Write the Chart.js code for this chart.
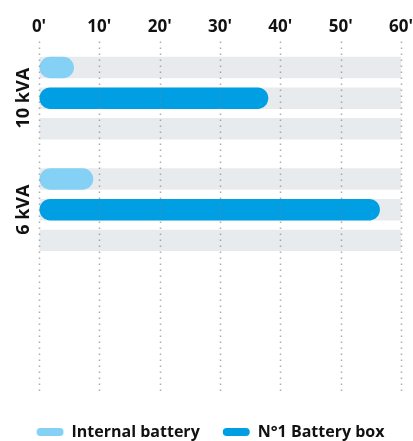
<!DOCTYPE html>
<html>
<head>
<meta charset="utf-8">
<script src="https://cdn.jsdelivr.net/npm/chart.js@4"></script>
<style>
html, body { margin: 0; padding: 0; background: #fff; }
#wrap { width: 413px; height: 441px; }
</style>
</head>
<body>
<div id="wrap"><canvas id="chart"></canvas></div>
<script>
// values (minutes of autonomy)
const categories = ['10 kVA', '6 kVA', ''];
const internalBattery = [5.8, 9, null];
const batteryBox = [38, 56.5, null];
const trackMax = [60, 60, null];
const xTicks = [0, 10, 20, 30, 40, 50, 60];

const LIGHT = '#84D1F5';
const BLUE = '#009FE3';
const TRACK = '#E8EBEE';
const FONT = "'Open Sans', sans-serif";

// dotted vertical grid, drawn over the bars
const dottedGrid = {
    id: 'dottedGrid',
    afterDatasetsDraw(chart) {
        const { ctx, chartArea, scales } = chart;
        ctx.save();
        ctx.strokeStyle = 'rgba(130,130,130,0.65)';
        ctx.lineWidth = 1.5;
        ctx.setLineDash([1.5, 4.5]);
        xTicks.forEach(v => {
            let px = Math.round(scales.x.getPixelForValue(v)) + 0.5;
            ctx.beginPath();
            ctx.moveTo(px, chartArea.top - 1);
            ctx.lineTo(px, chartArea.bottom + 15);
            ctx.stroke();
        });
        ctx.restore();
    }
};

// rotated category names on the left
const yLabels = {
    id: 'yLabels',
    afterDraw(chart) {
        const { ctx, scales } = chart;
        ctx.save();
        ctx.font = `700 18px ${FONT}`;
        ctx.fillStyle = '#111';
        ctx.textAlign = 'center';
        ctx.textBaseline = 'middle';
        categories.forEach((c, i) => {
            if (!c) return;
            ctx.save();
            ctx.translate(24, scales.y.getPixelForValue(i));
            ctx.rotate(-Math.PI / 2);
            ctx.fillText(c, 0, 0);
            ctx.restore();
        });
        ctx.restore();
    }
};

const bar = (label, data, color, stack, round) => ({
    label: label,
    data: data,
    backgroundColor: color,
    stack: stack,
    borderWidth: 0,
    borderRadius: round ? 11 : 0,
    borderSkipped: false,
    categoryPercentage: 0.825,
    barPercentage: 0.7
});

new Chart(document.getElementById('chart'), {
    type: 'bar',
    data: {
        labels: categories,
        datasets: [
            bar('Internal battery', internalBattery, LIGHT, 'a', true),
            bar('N°1 Battery box', batteryBox, BLUE, 'b', true),
            bar('trackA', trackMax, TRACK, 'a', false),
            bar('trackB', trackMax, TRACK, 'b', false),
            bar('trackC', trackMax, TRACK, 'c', false)
        ]
    },
    options: {
        indexAxis: 'y',
        responsive: true,
        maintainAspectRatio: false,
        animation: false,
        layout: { padding: { left: 10, right: 2, top: 17, bottom: -9 } },
        scales: {
            x: {
                position: 'top',
                min: 0,
                max: 60,
                stacked: false,
                afterBuildTicks: s => { s.ticks = xTicks.map(v => ({ value: v })); },
                grid: { display: true, color: 'transparent', drawOnChartArea: false, drawTicks: true, tickLength: 5 },
                border: { display: false },
                ticks: {
                    padding: 0,
                    color: '#111',
                    font: { family: FONT, size: 17, weight: '700' },
                    callback: v => v + "'"
                }
            },
            gap: {
                type: 'linear',
                position: 'bottom',
                display: true,
                grid: { display: false, drawTicks: false },
                border: { display: false },
                ticks: { display: false },
                afterFit: s => { s.height = 24; }
            },
            y: {
                display: true,
                grid: { display: false, drawTicks: false },
                border: { display: false },
                ticks: { display: false },
                afterFit: s => { s.width = 29; }
            }
        },
        plugins: {
            tooltip: { enabled: false },
            legend: {
                position: 'bottom',
                labels: {
                    filter: item => item.datasetIndex < 2,
                    boxWidth: 27,
                    boxHeight: 8,
                    useBorderRadius: true,
                    borderRadius: 4,
                    padding: 23,
                    color: '#111',
                    font: { family: FONT, size: 16, weight: '700' }
                }
            }
        }
    },
    plugins: [dottedGrid, yLabels]
});
</script>
</body>
</html>
